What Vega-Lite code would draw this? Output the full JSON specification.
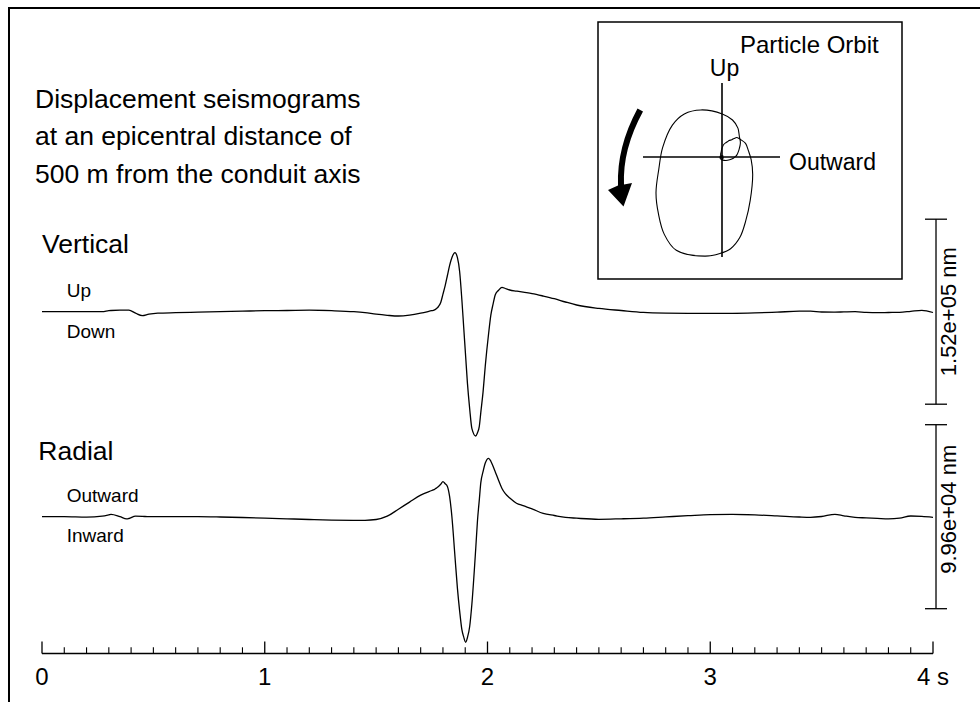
{
  "$schema": "https://vega.github.io/schema/vega-lite/v6.json",
  "width": 980,
  "height": 702,
  "autosize": {"type": "none"},
  "padding": 0,
  "background": "white",
  "config": {"view": {"stroke": null}, "axis": {"disable": true}, "font": "Liberation Sans"},
  "datasets": {
    "seis": [
      {"t": 0, "v": 0, "r": 0},
      {"t": 0.1, "v": 0, "r": 0},
      {"t": 0.2, "v": 0, "r": -271},
      {"t": 0.27, "v": 0, "r": 271},
      {"t": 0.3, "v": 822, "r": 974},
      {"t": 0.31, "v": 986, "r": 1245},
      {"t": 0.35, "v": 1232, "r": 0},
      {"t": 0.38, "v": 1232, "r": -1191},
      {"t": 0.39, "v": 1232, "r": -974},
      {"t": 0.42, "v": -1232, "r": 325},
      {"t": 0.45, "v": -3286, "r": 217},
      {"t": 0.48, "v": -2054, "r": 0},
      {"t": 0.52, "v": -1232, "r": 0},
      {"t": 0.6, "v": -822, "r": 0},
      {"t": 0.7, "v": -411, "r": 0},
      {"t": 0.8, "v": 0, "r": -162},
      {"t": 0.9, "v": 411, "r": -433},
      {"t": 1.0, "v": 822, "r": -758},
      {"t": 1.1, "v": 986, "r": -1137},
      {"t": 1.2, "v": 1232, "r": -1516},
      {"t": 1.3, "v": 822, "r": -1840},
      {"t": 1.4, "v": 0, "r": -1949},
      {"t": 1.45, "v": -822, "r": -1949},
      {"t": 1.5, "v": -2054, "r": -1516},
      {"t": 1.55, "v": -2958, "r": 271},
      {"t": 1.6, "v": -3533, "r": 4060},
      {"t": 1.65, "v": -2793, "r": 7903},
      {"t": 1.7, "v": -1232, "r": 11692},
      {"t": 1.75, "v": 822, "r": 14182},
      {"t": 1.76, "v": 1232, "r": 14669},
      {"t": 1.77, "v": 2465, "r": 15481},
      {"t": 1.78, "v": 4272, "r": 16347},
      {"t": 1.79, "v": 7559, "r": 17538},
      {"t": 1.8, "v": 14378, "r": 18946},
      {"t": 1.81, "v": 21362, "r": 17863},
      {"t": 1.82, "v": 29742, "r": 16401},
      {"t": 1.83, "v": 38122, "r": 10826},
      {"t": 1.84, "v": 44366, "r": 271},
      {"t": 1.854, "v": 48474, "r": -21652},
      {"t": 1.865, "v": 44366, "r": -38811},
      {"t": 1.875, "v": 32864, "r": -51099},
      {"t": 1.885, "v": 9613, "r": -61167},
      {"t": 1.893, "v": -12324, "r": -65064},
      {"t": 1.902, "v": -36972, "r": -67987},
      {"t": 1.91, "v": -58909, "r": -65389},
      {"t": 1.92, "v": -79695, "r": -59435},
      {"t": 1.93, "v": -96127, "r": -47093},
      {"t": 1.947, "v": -102125, "r": -17592},
      {"t": 1.955, "v": -99414, "r": -2165},
      {"t": 1.963, "v": -94484, "r": 8823},
      {"t": 1.97, "v": -82735, "r": 18458},
      {"t": 1.98, "v": -66057, "r": 24359},
      {"t": 1.99, "v": -44613, "r": 29068},
      {"t": 2.005, "v": -17911, "r": 31612},
      {"t": 2.015, "v": -2793, "r": 30042},
      {"t": 2.025, "v": 6244, "r": 27282},
      {"t": 2.035, "v": 13967, "r": 24250},
      {"t": 2.05, "v": 17664, "r": 19595},
      {"t": 2.065, "v": 20047, "r": 15265},
      {"t": 2.08, "v": 19061, "r": 12450},
      {"t": 2.1, "v": 17829, "r": 10068},
      {"t": 2.13, "v": 16925, "r": 7308},
      {"t": 2.16, "v": 16021, "r": 5954},
      {"t": 2.2, "v": 14871, "r": 4222},
      {"t": 2.25, "v": 12899, "r": 1786},
      {"t": 2.3, "v": 10681, "r": 650},
      {"t": 2.35, "v": 7970, "r": -379},
      {"t": 2.4, "v": 5505, "r": -812},
      {"t": 2.5, "v": 2711, "r": -1407},
      {"t": 2.6, "v": 986, "r": -1137},
      {"t": 2.7, "v": -575, "r": -758},
      {"t": 2.8, "v": -1150, "r": -108},
      {"t": 2.9, "v": -1315, "r": 541},
      {"t": 3.0, "v": -1315, "r": 1137},
      {"t": 3.1, "v": -1315, "r": 1245},
      {"t": 3.2, "v": -986, "r": 974},
      {"t": 3.3, "v": -329, "r": 433},
      {"t": 3.4, "v": 411, "r": -162},
      {"t": 3.45, "v": 493, "r": -325},
      {"t": 3.5, "v": -246, "r": 108},
      {"t": 3.56, "v": -329, "r": 1299},
      {"t": 3.6, "v": -164, "r": 487},
      {"t": 3.65, "v": 0, "r": -379},
      {"t": 3.7, "v": -575, "r": -650},
      {"t": 3.75, "v": -822, "r": -920},
      {"t": 3.8, "v": -657, "r": -1191},
      {"t": 3.85, "v": -493, "r": -812},
      {"t": 3.9, "v": 329, "r": 379},
      {"t": 3.95, "v": 1150, "r": 162},
      {"t": 4.0, "v": -657, "r": -325}
    ],
    "majorTicks": [{"t": 0}, {"t": 1}, {"t": 2}, {"t": 3}, {"t": 4}],
    "minorTicks": [
      {"t": 0.1}, {"t": 0.2}, {"t": 0.3}, {"t": 0.4}, {"t": 0.5}, {"t": 0.6}, {"t": 0.7}, {"t": 0.8}, {"t": 0.9},
      {"t": 1.1}, {"t": 1.2}, {"t": 1.3}, {"t": 1.4}, {"t": 1.5}, {"t": 1.6}, {"t": 1.7}, {"t": 1.8}, {"t": 1.9},
      {"t": 2.1}, {"t": 2.2}, {"t": 2.3}, {"t": 2.4}, {"t": 2.5}, {"t": 2.6}, {"t": 2.7}, {"t": 2.8}, {"t": 2.9},
      {"t": 3.1}, {"t": 3.2}, {"t": 3.3}, {"t": 3.4}, {"t": 3.5}, {"t": 3.6}, {"t": 3.7}, {"t": 3.8}, {"t": 3.9}
    ],
    "tickLabels": [
      {"t": 0, "label": "0"}, {"t": 1, "label": "1"}, {"t": 2, "label": "2"}, {"t": 3, "label": "3"}, {"t": 4, "label": "4 s"}
    ]
  },
  "resolve": {"scale": {"x": "independent", "y": "independent"}},
  "layer": [
    {
      "layer": [
        {
          "data": {"name": "seis"},
          "mark": {"type": "line", "color": "black", "strokeWidth": 1.3, "interpolate": "monotone"},
          "encoding": {
            "x": {"field": "t", "type": "quantitative", "scale": {"domain": [-0.18855, 4.211], "nice": false, "zero": false}, "axis": null},
            "y": {"field": "v", "type": "quantitative", "scale": {"domain": [-320670, 256093], "nice": false, "zero": false}, "axis": null}
          }
        },
        {
          "data": {"values": [{}]},
          "mark": {"type": "rect", "filled": false, "stroke": "black", "strokeWidth": 2},
          "encoding": {
            "x": {"datum": -0.14815}, "x2": {"datum": 4.6},
            "y": {"datum": 249520}, "y2": {"datum": -420000}
          }
        },
        {
          "data": {"values": [{}]},
          "mark": {"type": "text", "align": "left", "baseline": "alphabetic", "fontSize": 26.5, "lineBreak": "\n", "lineHeight": 37.2, "color": "black"},
          "encoding": {
            "x": {"datum": -0.0314}, "y": {"datum": 167113},
            "text": {"value": "Displacement seismograms\nat an epicentral distance of\n500 m from the conduit axis"}
          }
        },
        {
          "data": {"values": [{}]},
          "mark": {"type": "text", "align": "left", "baseline": "alphabetic", "fontSize": 26.5, "color": "black"},
          "encoding": {"x": {"datum": 0}, "y": {"datum": 47981}, "text": {"value": "Vertical"}}
        },
        {
          "data": {"values": [{}]},
          "mark": {"type": "text", "align": "left", "baseline": "alphabetic", "fontSize": 19, "color": "black"},
          "encoding": {"x": {"datum": 0.111}, "y": {"datum": 12324}, "text": {"value": "Up"}}
        },
        {
          "data": {"values": [{}]},
          "mark": {"type": "text", "align": "left", "baseline": "alphabetic", "fontSize": 19, "color": "black"},
          "encoding": {"x": {"datum": 0.111}, "y": {"datum": -21854}, "text": {"value": "Down"}}
        },
        {
          "data": {"values": [{}]},
          "mark": {"type": "rule", "color": "black", "strokeWidth": 1.3},
          "encoding": {"x": {"datum": 4.0135}, "y": {"datum": -76000}, "y2": {"datum": 76000}}
        },
        {
          "data": {"values": [{}]},
          "mark": {"type": "rule", "color": "black", "strokeWidth": 1.3},
          "encoding": {"x": {"datum": 3.964}, "x2": {"datum": 4.063}, "y": {"datum": 76000}}
        },
        {
          "data": {"values": [{}]},
          "mark": {"type": "rule", "color": "black", "strokeWidth": 1.3},
          "encoding": {"x": {"datum": 3.964}, "x2": {"datum": 4.063}, "y": {"datum": -76000}}
        },
        {
          "data": {"values": [{}]},
          "mark": {"type": "text", "align": "center", "baseline": "alphabetic", "angle": 270, "fontSize": 22, "color": "black"},
          "encoding": {"x": {"datum": 4.1033}, "y": {"datum": 0}, "text": {"value": "1.52e+05 nm"}}
        },
        {
          "data": {"values": [{}]},
          "mark": {"type": "rule", "color": "black", "strokeWidth": 1.3},
          "encoding": {"x": {"datum": 0}, "x2": {"datum": 4}, "y": {"datum": -280827}}
        },
        {
          "data": {"name": "majorTicks"},
          "mark": {"type": "rule", "color": "black", "strokeWidth": 1.3},
          "encoding": {"x": {"field": "t", "type": "quantitative"}, "y": {"datum": -280827}, "y2": {"datum": -270968}}
        },
        {
          "data": {"name": "minorTicks"},
          "mark": {"type": "rule", "color": "black", "strokeWidth": 1.1},
          "encoding": {"x": {"field": "t", "type": "quantitative"}, "y": {"datum": -280827}, "y2": {"datum": -275733}}
        },
        {
          "data": {"name": "tickLabels"},
          "mark": {"type": "text", "align": "center", "baseline": "alphabetic", "fontSize": 24, "color": "black"},
          "encoding": {"x": {"field": "t", "type": "quantitative"}, "y": {"datum": -306700}, "text": {"field": "label"}}
        }
      ]
    },
    {
      "layer": [
        {
          "data": {"name": "seis"},
          "mark": {"type": "line", "color": "black", "strokeWidth": 1.3, "interpolate": "monotone"},
          "encoding": {
            "x": {"field": "t", "type": "quantitative", "scale": {"domain": [-0.18855, 4.211], "nice": false, "zero": false}, "axis": null},
            "y": {"field": "r", "type": "quantitative", "scale": {"domain": [-100303, 279690], "nice": false, "zero": false}, "axis": null}
          }
        },
        {
          "data": {"values": [{}]},
          "mark": {"type": "text", "align": "left", "baseline": "alphabetic", "fontSize": 26.5, "color": "black"},
          "encoding": {"x": {"datum": -0.0166}, "y": {"datum": 30692}, "text": {"value": "Radial"}}
        },
        {
          "data": {"values": [{}]},
          "mark": {"type": "text", "align": "left", "baseline": "alphabetic", "fontSize": 19, "color": "black"},
          "encoding": {"x": {"datum": 0.111}, "y": {"datum": 8120}, "text": {"value": "Outward"}}
        },
        {
          "data": {"values": [{}]},
          "mark": {"type": "text", "align": "left", "baseline": "alphabetic", "fontSize": 19, "color": "black"},
          "encoding": {"x": {"datum": 0.111}, "y": {"datum": -13533}, "text": {"value": "Inward"}}
        },
        {
          "data": {"values": [{}]},
          "mark": {"type": "rule", "color": "black", "strokeWidth": 1.3},
          "encoding": {"x": {"datum": 4.0135}, "y": {"datum": -49800}, "y2": {"datum": 49800}}
        },
        {
          "data": {"values": [{}]},
          "mark": {"type": "rule", "color": "black", "strokeWidth": 1.3},
          "encoding": {"x": {"datum": 3.964}, "x2": {"datum": 4.063}, "y": {"datum": 49800}}
        },
        {
          "data": {"values": [{}]},
          "mark": {"type": "rule", "color": "black", "strokeWidth": 1.3},
          "encoding": {"x": {"datum": 3.964}, "x2": {"datum": 4.063}, "y": {"datum": -49800}}
        },
        {
          "data": {"values": [{}]},
          "mark": {"type": "text", "align": "center", "baseline": "alphabetic", "angle": 270, "fontSize": 22, "color": "black"},
          "encoding": {"x": {"datum": 4.1033}, "y": {"datum": 4000}, "text": {"value": "9.96e+04 nm"}}
        }
      ]
    },
    {
      "layer": [
        {
          "data": {"values": [{}]},
          "mark": {"type": "rect", "fill": "white", "stroke": "black", "strokeWidth": 1.5},
          "encoding": {
            "x": {"datum": -127720, "scale": {"domain": [-743660, 265740], "nice": false, "zero": false}, "axis": null},
            "x2": {"datum": 185400},
            "y": {"datum": 139050, "scale": {"domain": [-561350, 161710], "nice": false, "zero": false}, "axis": null},
            "y2": {"datum": -125660}
          }
        },
        {
          "data": {"values": [{}]},
          "mark": {"type": "rule", "color": "black", "strokeWidth": 1.6},
          "encoding": {"x": {"datum": -81370}, "x2": {"datum": 59740}, "y": {"datum": 0}}
        },
        {
          "data": {"values": [{}]},
          "mark": {"type": "rule", "color": "black", "strokeWidth": 1.6},
          "encoding": {"x": {"datum": 0}, "y": {"datum": 76220}, "y2": {"datum": -103000}}
        },
        {
          "data": {"name": "seis"},
          "mark": {"type": "line", "color": "black", "strokeWidth": 1.1, "interpolate": "catmull-rom"},
          "encoding": {
            "x": {"field": "r", "type": "quantitative"},
            "y": {"field": "v", "type": "quantitative"},
            "order": {"field": "t", "type": "quantitative"}
          }
        },
        {
          "data": {"values": [{}]},
          "mark": {"type": "text", "align": "left", "baseline": "alphabetic", "fontSize": 24, "color": "black"},
          "encoding": {"x": {"datum": 18540}, "y": {"datum": 106811}, "text": {"value": "Particle Orbit"}}
        },
        {
          "data": {"values": [{}]},
          "mark": {"type": "text", "align": "center", "baseline": "alphabetic", "fontSize": 23, "color": "black"},
          "encoding": {"x": {"datum": 2575}, "y": {"datum": 83430}, "text": {"value": "Up"}}
        },
        {
          "data": {"values": [{}]},
          "mark": {"type": "text", "align": "left", "baseline": "alphabetic", "fontSize": 23, "color": "black"},
          "encoding": {"x": {"datum": 69010}, "y": {"datum": -13390}, "text": {"value": "Outward"}}
        },
        {
          "data": {"values": [{}]},
          "mark": {
            "type": "point",
            "filled": true,
            "color": "black",
            "opacity": 1,
            "strokeWidth": 0,
            "size": 10000,
            "shape": "M 0.19 -0.99 L 0.30 -0.93 Q -0.11 -0.18 -0.08 0.53 L 0.08 0.50 L -0.09 0.97 L -0.40 0.64 L -0.20 0.55 Q -0.23 -0.21 0.19 -0.99 Z"
          },
          "encoding": {"x": {"datum": -96820}, "y": {"datum": -1030}}
        }
      ]
    }
  ]
}
